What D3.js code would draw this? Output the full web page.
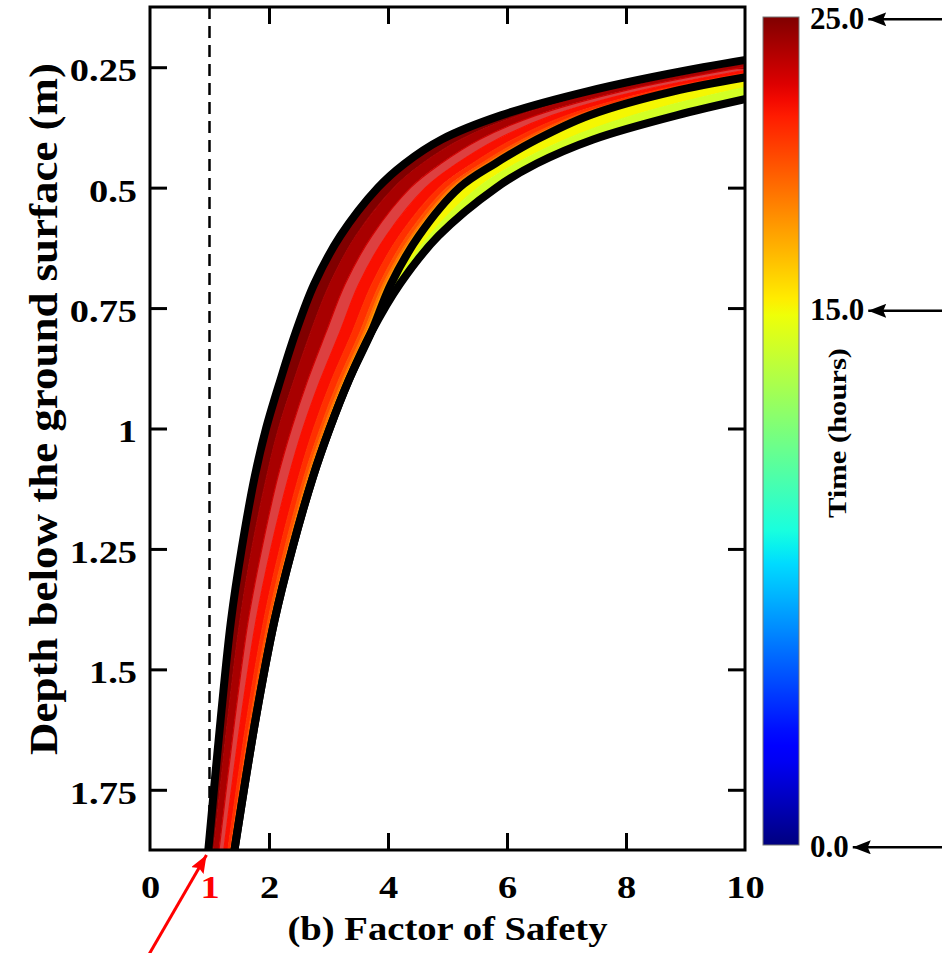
<!DOCTYPE html>
<html>
<head>
<meta charset="utf-8">
<script src="https://cdn.jsdelivr.net/npm/d3@7"></script>
<style>
  body { margin: 0; background: #fff; }
  svg { display: block; }
  text { font-family: 'Liberation Serif', 'Times New Roman', serif; font-weight: bold; }
</style>
</head>
<body>
<script>
// DATA
// depth below the ground surface (m), shared by every curve
const depths = [0.2, 0.25, 0.3, 0.35, 0.4, 0.45, 0.5, 0.6, 0.7, 0.8, 0.9, 1.0, 1.1, 1.25, 1.4, 1.6, 1.875];

// factor of safety at each depth, one array per time (hours)
const fsHour0  = [14.6, 12.5, 10.6, 8.85, 7.45, 6.5, 5.82, 4.85, 4.2, 3.72, 3.34, 3.02, 2.74, 2.39, 2.09, 1.78, 1.42];
const fsHour6  = [14.56, 12.44, 10.53, 8.79, 7.41, 6.47, 5.8, 4.84, 4.19, 3.72, 3.34, 3.02, 2.74, 2.39, 2.09, 1.78, 1.42];
const fsHour13 = [14.45, 12.28, 10.33, 8.63, 7.31, 6.4, 5.73, 4.8, 4.18, 3.72, 3.34, 3.02, 2.74, 2.39, 2.09, 1.78, 1.42];
const fsHour14 = [14.1, 11.75, 9.7, 8.12, 6.98, 6.15, 5.51, 4.69, 4.13, 3.72, 3.34, 3.02, 2.74, 2.39, 2.09, 1.78, 1.42];
const fsHour15 = [13.6, 11.0, 8.8, 7.38, 6.5, 5.8, 5.2, 4.52, 4.05, 3.72, 3.34, 3.02, 2.74, 2.39, 2.09, 1.78, 1.42];
const fsHour16 = [13.56, 10.97, 8.77, 7.35, 6.47, 5.77, 5.17, 4.49, 4.02, 3.70, 3.32, 3.00, 2.72, 2.37, 2.08, 1.77, 1.41];
const fsHour17 = [13.53, 10.93, 8.74, 7.32, 6.44, 5.74, 5.15, 4.47, 4.00, 3.67, 3.29, 2.98, 2.70, 2.36, 2.06, 1.76, 1.40];
const fsHour18 = [13.47, 10.88, 8.70, 7.28, 6.39, 5.69, 5.10, 4.43, 3.96, 3.63, 3.26, 2.95, 2.67, 2.33, 2.04, 1.74, 1.39];
const fsHour19 = [13.42, 10.83, 8.66, 7.23, 6.34, 5.65, 5.06, 4.39, 3.92, 3.59, 3.23, 2.91, 2.64, 2.31, 2.02, 1.72, 1.38];
const fsHour20 = [13.33, 10.75, 8.58, 7.16, 6.26, 5.57, 4.99, 4.32, 3.86, 3.53, 3.17, 2.86, 2.59, 2.26, 1.98, 1.69, 1.35];
const fsHour21 = [13.15, 10.58, 8.44, 7.01, 6.10, 5.42, 4.86, 4.19, 3.73, 3.40, 3.05, 2.75, 2.50, 2.18, 1.91, 1.63, 1.31];
const fsHour22 = [12.84, 10.29, 8.19, 6.76, 5.83, 5.16, 4.63, 3.97, 3.51, 3.19, 2.86, 2.57, 2.33, 2.03, 1.78, 1.53, 1.24];
const fsHour23 = [12.52, 9.98, 7.93, 6.49, 5.54, 4.89, 4.38, 3.73, 3.28, 2.96, 2.65, 2.38, 2.15, 1.88, 1.65, 1.43, 1.16];
const fsHour24 = [12.16, 9.64, 7.64, 6.20, 5.22, 4.58, 4.10, 3.46, 3.02, 2.70, 2.42, 2.16, 1.96, 1.71, 1.51, 1.31, 1.07];
const fsHour25 = [11.8, 9.3, 7.35, 5.9, 4.9, 4.28, 3.83, 3.2, 2.76, 2.45, 2.19, 1.95, 1.76, 1.54, 1.36, 1.19, 0.98];

const curveHours = [0, 6, 13, 14, 15, 16, 17, 18, 19, 20, 21, 22, 23, 24, 25];
const curveValues = [fsHour0, fsHour6, fsHour13, fsHour14, fsHour15, fsHour16, fsHour17, fsHour18,
  fsHour19, fsHour20, fsHour21, fsHour22, fsHour23, fsHour24, fsHour25];
const highlightHours = [0, 15, 25]; // drawn as thick black lines
const hazyHours = [23];             // band that looks washed out (many thin lines) in the figure

const xTickLabels = [0, 1, 2, 4, 6, 8, 10];
const xTickMarks = [2, 4, 6, 8];
const yTicks = [0.25, 0.5, 0.75, 1, 1.25, 1.5, 1.75];
const yTickLabels = ['0.25', '0.5', '0.75', '1', '1.25', '1.5', '1.75'];
const safetyLimit = 1;

const cbarHours = [0, 15, 25];
const cbarLabels = ['0.0', '15.0', '25.0'];

// DEFS
const width = 942, height = 953;
const plot = {left: 150, right: 745, top: 7, bottom: 850};
const cbar = {left: 763, width: 36, top: 17, bottom: 845};
const tickLen = 17;
const tickFont = 32;
const tickStretch = 1.2;

const x = d3.scaleLinear().domain([0, 10]).range([plot.left, plot.right]);
const y = d3.scaleLinear().domain([0.125, 1.875]).range([plot.top, plot.bottom]);
// the bar is not evenly spaced: 15 h sits about 65% of the way up
const c = d3.scaleLinear().domain(cbarHours).range([cbar.bottom, 308.5, cbar.top]);

// matplotlib style jet colormap, u in [0, 1]
const jetR = d3.scaleLinear().domain([0, 0.35, 0.66, 0.89, 1]).range([0, 0, 1, 1, 0.5]).clamp(true);
const jetG = d3.scaleLinear().domain([0, 0.125, 0.375, 0.64, 0.91, 1]).range([0, 0, 1, 1, 0, 0]).clamp(true);
const jetB = d3.scaleLinear().domain([0, 0.11, 0.34, 0.65, 1]).range([0.5, 1, 1, 0, 0]).clamp(true);
const jet = u => d3.rgb(jetR(u) * 255, jetG(u) * 255, jetB(u) * 255).formatHex();
const hourColor = h => jet((cbar.bottom - c(h)) / (cbar.bottom - cbar.top));

const curves = curveHours.map((h, i) => ({
  hour: h,
  points: depths.map((d, j) => ({depth: d, fs: curveValues[i][j]}))
}));

const svg = d3.select('body').append('svg').attr('width', width).attr('height', height);
const defs = svg.append('defs');

defs.append('clipPath').attr('id', 'plotClip')
  .append('rect')
  .attr('x', plot.left).attr('y', plot.top)
  .attr('width', plot.right - plot.left).attr('height', plot.bottom - plot.top);

const grad = defs.append('linearGradient').attr('id', 'jetGrad')
  .attr('x1', 0).attr('y1', 1).attr('x2', 0).attr('y2', 0);
grad.selectAll('stop').data(d3.range(0, 1.0001, 0.02)).enter().append('stop')
  .attr('offset', d => d)
  .attr('stop-color', d => jet(d));

const addArrowHead = (id, color) => {
  defs.append('marker').attr('id', id)
    .attr('viewBox', '0 0 18 14').attr('refX', 18).attr('refY', 7)
    .attr('markerWidth', 18).attr('markerHeight', 14)
    .attr('markerUnits', 'userSpaceOnUse').attr('orient', 'auto')
    .append('path').attr('d', 'M0,0 L18,7 L0,14 L3,7 Z').attr('fill', color);
};
addArrowHead('headBlack', '#000');
addArrowHead('headRed', '#ff0000');

// TICKS (inward on all four sides)
const tickStyle = g => {
  g.select('.domain').remove();
  g.selectAll('line').attr('stroke', '#000').attr('stroke-width', 3);
};
svg.append('g').attr('transform', `translate(0,${plot.bottom})`)
  .call(d3.axisTop(x).tickValues(xTickMarks).tickSize(tickLen).tickFormat('')).call(tickStyle);
svg.append('g').attr('transform', `translate(0,${plot.top})`)
  .call(d3.axisBottom(x).tickValues(xTickMarks).tickSize(tickLen).tickFormat('')).call(tickStyle);
svg.append('g').attr('transform', `translate(${plot.left},0)`)
  .call(d3.axisRight(y).tickValues(yTicks).tickSize(tickLen).tickFormat('')).call(tickStyle);
svg.append('g').attr('transform', `translate(${plot.right},0)`)
  .call(d3.axisLeft(y).tickValues(yTicks).tickSize(tickLen).tickFormat('')).call(tickStyle);

// FS = 1 line
svg.append('line')
  .attr('x1', x(safetyLimit)).attr('x2', x(safetyLimit))
  .attr('y1', plot.top).attr('y2', plot.bottom)
  .attr('stroke', '#000').attr('stroke-width', 2.5).attr('stroke-dasharray', '12,7');

// CURVES
const plotArea = svg.append('g').attr('clip-path', 'url(#plotClip)');

const band = d3.area()
  .y(d => y(d.depth))
  .x0(d => x(d.a))
  .x1(d => x(d.b))
  .curve(d3.curveCatmullRom.alpha(0.5));

const line = d3.line()
  .x(d => x(d.fs))
  .y(d => y(d.depth))
  .curve(d3.curveCatmullRom.alpha(0.5));

const bands = d3.pairs(curves).map(([p, q]) => ({
  hour: q.hour,
  points: depths.map((d, j) => ({depth: d, a: p.points[j].fs, b: q.points[j].fs}))
}));

plotArea.selectAll('.band').data(bands).enter().append('path')
  .attr('class', 'band')
  .attr('d', d => band(d.points))
  .attr('fill', d => hourColor(d.hour))
  .attr('fill-opacity', d => hazyHours.includes(d.hour) ? 0.75 : 1);

plotArea.selectAll('.curve').data(curves).enter().append('path')
  .attr('class', 'curve')
  .attr('d', d => line(d.points))
  .attr('fill', 'none')
  .attr('stroke', d => hourColor(d.hour))
  .attr('stroke-width', 1.2);

plotArea.selectAll('.highlight').data(curves.filter(d => highlightHours.includes(d.hour))).enter().append('path')
  .attr('class', 'highlight')
  .attr('d', d => line(d.points))
  .attr('fill', 'none')
  .attr('stroke', '#000')
  .attr('stroke-width', 8)
  .attr('stroke-linejoin', 'round');

// FRAME
svg.append('rect')
  .attr('x', plot.left).attr('y', plot.top)
  .attr('width', plot.right - plot.left).attr('height', plot.bottom - plot.top)
  .attr('fill', 'none').attr('stroke', '#000').attr('stroke-width', 3);

// TICK LABELS
const xLabels = svg.append('g').attr('transform', `translate(0,${plot.bottom})`)
  .call(d3.axisBottom(x).tickValues(xTickLabels).tickSize(0).tickFormat(d3.format('d')));
xLabels.select('.domain').remove();
xLabels.selectAll('text')
  .attr('y', 48).attr('dy', null)
  .attr('transform', `scale(${tickStretch},1)`)
  .style('font-size', tickFont + 'px')
  .attr('fill', d => d === safetyLimit ? '#ff0000' : '#000');

const yLabels = svg.append('g').attr('transform', `translate(${plot.left},0)`)
  .call(d3.axisLeft(y).tickValues(yTicks).tickSize(0).tickFormat((d, i) => yTickLabels[i]));
yLabels.select('.domain').remove();
yLabels.selectAll('text')
  .attr('x', -13 / tickStretch).attr('dy', '0.42em')
  .attr('transform', `scale(${tickStretch},1)`)
  .style('font-size', tickFont + 'px')
  .attr('fill', '#000');

// AXIS TITLES
svg.append('text')
  .attr('x', (plot.left + plot.right) / 2).attr('y', 940)
  .attr('text-anchor', 'middle')
  .attr('textLength', 320).attr('lengthAdjust', 'spacingAndGlyphs')
  .style('font-size', '33px')
  .text('(b) Factor of Safety');

svg.append('text')
  .attr('transform', 'translate(57,409) rotate(-90)')
  .attr('text-anchor', 'middle')
  .attr('textLength', 692).attr('lengthAdjust', 'spacingAndGlyphs')
  .style('font-size', '40px')
  .text('Depth below the ground surface (m)');

// COLORBAR
svg.append('rect')
  .attr('x', cbar.left).attr('y', cbar.top)
  .attr('width', cbar.width).attr('height', cbar.bottom - cbar.top)
  .attr('fill', 'url(#jetGrad)')
  .attr('stroke', '#777').attr('stroke-width', 1);

svg.append('text')
  .attr('transform', 'translate(846,433) rotate(-90)')
  .attr('text-anchor', 'middle')
  .attr('textLength', 170).attr('lengthAdjust', 'spacingAndGlyphs')
  .style('font-size', '26px')
  .text('Time (hours)');

const cbarText = svg.selectAll('.cbarLabel').data(cbarHours).enter().append('text')
  .attr('class', 'cbarLabel')
  .attr('x', 810)
  .attr('y', d => c(d))
  .attr('dy', '0.38em')
  .style('font-size', '31px')
  .text((d, i) => cbarLabels[i]);

// pointers from the right edge to each colorbar label
cbarText.each(function (d) {
  const box = this.getBBox();
  const yy = box.y + box.height / 2 + 1;
  svg.append('line')
    .attr('x1', width).attr('y1', yy)
    .attr('x2', box.x + box.width + 4).attr('y2', yy)
    .attr('stroke', '#000').attr('stroke-width', 2.5)
    .attr('marker-end', 'url(#headBlack)');
});

// red pointer at FS = 1
svg.append('line')
  .attr('x1', x(safetyLimit) - 62).attr('y1', 957)
  .attr('x2', x(safetyLimit) - 3).attr('y2', plot.bottom + 5)
  .attr('stroke', '#ff0000').attr('stroke-width', 3)
  .attr('marker-end', 'url(#headRed)');
</script>
</body>
</html>
